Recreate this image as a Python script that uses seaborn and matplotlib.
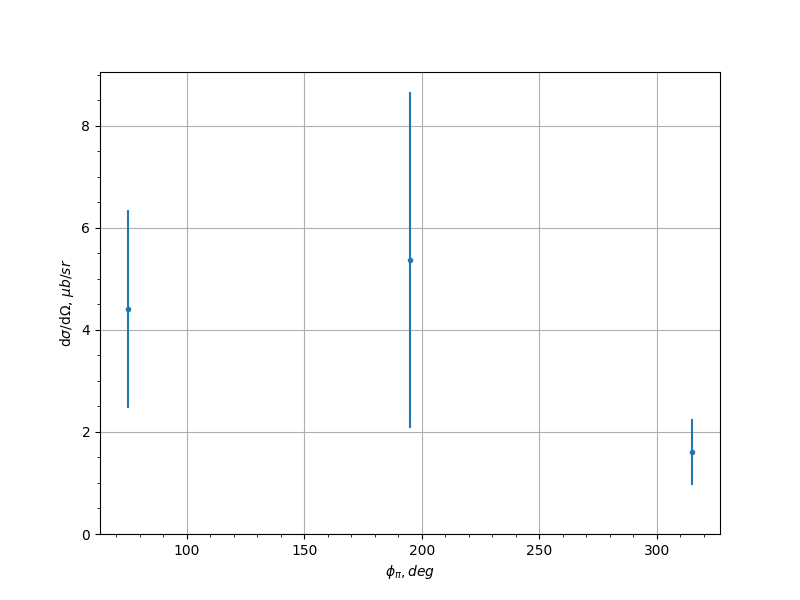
import numpy as np
import pandas as pd
import matplotlib
matplotlib.use("Agg")
import matplotlib.pyplot as plt
import seaborn as sns

# Data
phi = [75, 195, 315]
xsec = [4.41, 5.37, 1.61]
xsec_err = [1.94, 3.30, 0.65]

df = pd.DataFrame({"phi": phi, "xsec": xsec, "err": xsec_err})

fig, ax = plt.subplots(figsize=(8, 6), dpi=100)

ax.errorbar(df["phi"], df["xsec"], yerr=df["err"], fmt="none", ecolor="C0")
sns.scatterplot(data=df, x="phi", y="xsec", marker=".", s=36, color="C0",
                edgecolor="C0", linewidth=1, ax=ax, zorder=3)

ax.set_ylim(bottom=0)
ax.minorticks_on()
ax.grid(True, which="major")
ax.set_xlabel(r"$\phi_\pi, deg$")
ax.set_ylabel(r"d$\sigma$/d$\Omega$, $\mu b/sr$")

plt.savefig("out.png")
